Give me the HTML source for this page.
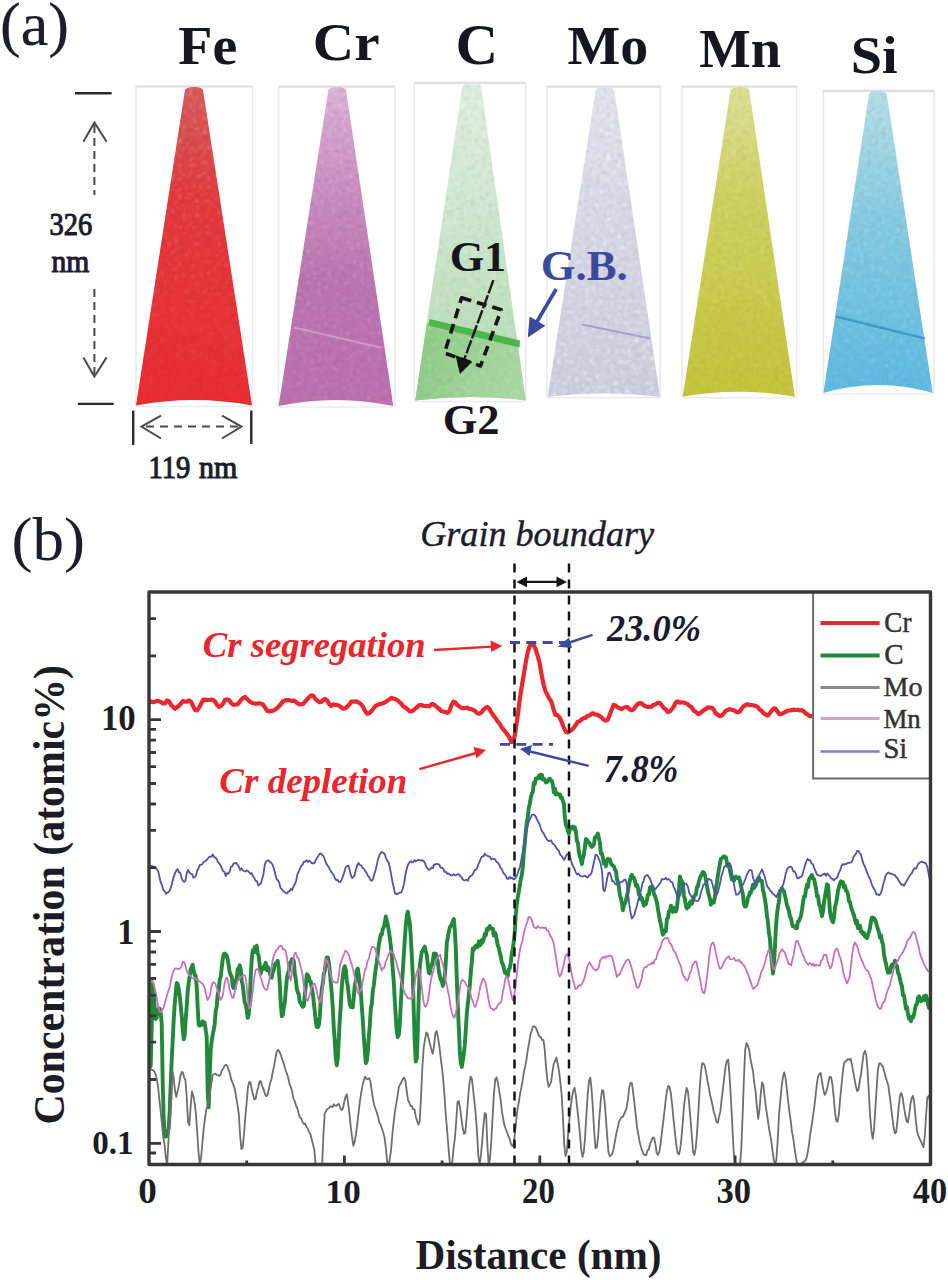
<!DOCTYPE html>
<html><head><meta charset="utf-8"><title>Figure</title>
<style>
html,body{margin:0;padding:0;background:#fff;}
body{width:948px;height:1280px;overflow:hidden;}
svg{display:block;}
text{font-family:"Liberation Serif",serif;}
</style></head><body>
<svg width="948" height="1280" viewBox="0 0 948 1280">
<defs><filter id="spkW" x="-5%" y="-5%" width="110%" height="110%"><feTurbulence type="fractalNoise" baseFrequency="0.28" numOctaves="2" seed="4"/><feColorMatrix type="matrix" values="0 0 0 0 1  0 0 0 0 1  0 0 0 0 1  4 0 0 0 -2.2"/><feGaussianBlur stdDeviation="0.9"/><feComposite in2="SourceAlpha" operator="in"/></filter><filter id="spkD" x="-5%" y="-5%" width="110%" height="110%"><feTurbulence type="fractalNoise" baseFrequency="0.28" numOctaves="2" seed="11"/><feColorMatrix type="matrix" values="0 0 0 0 0  0 0 0 0 0  0 0 0 0 0  -4 0 0 0 1.8"/><feGaussianBlur stdDeviation="0.9"/><feComposite in2="SourceAlpha" operator="in"/></filter><linearGradient id="fadeG" x1="0" y1="0" x2="0" y2="1"><stop offset="0" stop-color="#fff"/><stop offset="0.45" stop-color="#888"/><stop offset="1" stop-color="#222"/></linearGradient><linearGradient id="fadeG2" x1="0" y1="0" x2="0" y2="1"><stop offset="0" stop-color="#fff"/><stop offset="1" stop-color="#777"/></linearGradient><mask id="fade" maskContentUnits="objectBoundingBox"><rect width="1" height="1" fill="url(#fadeG)"/></mask><mask id="fade2" maskContentUnits="objectBoundingBox"><rect width="1" height="1" fill="url(#fadeG2)"/></mask><filter id="spkDb" x="-5%" y="-5%" width="110%" height="110%"><feTurbulence type="fractalNoise" baseFrequency="0.28" numOctaves="2" seed="11"/><feColorMatrix type="matrix" values="0 0 0 0 0.42  0 0 0 0 0.42  0 0 0 0 0.65  -4 0 0 0 1.8"/><feGaussianBlur stdDeviation="0.9"/><feComposite in2="SourceAlpha" operator="in"/></filter><linearGradient id="gFe" x1="0" y1="0" x2="0" y2="1"><stop offset="0" stop-color="#d65a5a"/><stop offset="0.35" stop-color="#e2383c"/><stop offset="1" stop-color="#e72d32"/></linearGradient><linearGradient id="gCr" x1="0" y1="0" x2="0" y2="1"><stop offset="0" stop-color="#dcb0d6"/><stop offset="0.3" stop-color="#cb8fc4"/><stop offset="0.6" stop-color="#bb74b0"/><stop offset="1" stop-color="#b96fae"/></linearGradient><linearGradient id="gC" x1="0" y1="0" x2="0" y2="1"><stop offset="0" stop-color="#dfeee0"/><stop offset="0.45" stop-color="#cde6cd"/><stop offset="0.78" stop-color="#bcdfbb"/><stop offset="1" stop-color="#b0d9ad"/></linearGradient><linearGradient id="gCl" x1="0" y1="0" x2="1" y2="0.3"><stop offset="0" stop-color="#7cc472"/><stop offset="0.6" stop-color="#98d090"/><stop offset="1" stop-color="#a8d8a2"/></linearGradient><clipPath id="cC"><path d="M462.4,86 L481,86 L525.7,400.5 L415.2,400.5 Z"/></clipPath><linearGradient id="gMo" x1="0" y1="0" x2="0" y2="1"><stop offset="0" stop-color="#e2e2ea"/><stop offset="0.5" stop-color="#d5d5e2"/><stop offset="1" stop-color="#cbcbdc"/></linearGradient><linearGradient id="gMn" x1="0" y1="0" x2="0" y2="1"><stop offset="0" stop-color="#dcdf94"/><stop offset="0.35" stop-color="#cdd05e"/><stop offset="1" stop-color="#c2c43a"/></linearGradient><linearGradient id="gSi" x1="0" y1="0" x2="0" y2="1"><stop offset="0" stop-color="#b4dde6"/><stop offset="0.4" stop-color="#86cbe2"/><stop offset="1" stop-color="#5cb9e0"/></linearGradient><clipPath id="plot"><rect x="149" y="592" width="781.5" height="572.5"/></clipPath></defs>
<rect width="948" height="1280" fill="#fff"/>
<path d="M136,405.5 V86.5 H252.5 V405.5" fill="none" stroke="#ebe9ee" stroke-width="1.6"/>
<line x1="136" y1="86.5" x2="252.5" y2="86.5" stroke="#e0dde0" stroke-width="2.2"/>
<line x1="136" y1="406.5" x2="252.5" y2="406.5" stroke="#ecebef" stroke-width="1.5"/>
<path d="M278.6,406 V86.7 H395 V406" fill="none" stroke="#ebe9ee" stroke-width="1.6"/>
<line x1="278.6" y1="86.7" x2="395" y2="86.7" stroke="#e0dde0" stroke-width="2.2"/>
<line x1="278.6" y1="407" x2="395" y2="407" stroke="#ecebef" stroke-width="1.5"/>
<path d="M414.3,400.5 V82.8 H525.7 V400.5" fill="none" stroke="#ebe9ee" stroke-width="1.6"/>
<line x1="414.3" y1="82.8" x2="525.7" y2="82.8" stroke="#e0dde0" stroke-width="2.2"/>
<line x1="414.3" y1="401.5" x2="525.7" y2="401.5" stroke="#ecebef" stroke-width="1.5"/>
<path d="M546.8,396.7 V86.7 H660.2 V396.7" fill="none" stroke="#ebe9ee" stroke-width="1.6"/>
<line x1="546.8" y1="86.7" x2="660.2" y2="86.7" stroke="#e0dde0" stroke-width="2.2"/>
<line x1="546.8" y1="397.7" x2="660.2" y2="397.7" stroke="#ecebef" stroke-width="1.5"/>
<path d="M682,396.7 V86.7 H796.5 V396.7" fill="none" stroke="#ebe9ee" stroke-width="1.6"/>
<line x1="682" y1="86.7" x2="796.5" y2="86.7" stroke="#e0dde0" stroke-width="2.2"/>
<line x1="682" y1="397.7" x2="796.5" y2="397.7" stroke="#ecebef" stroke-width="1.5"/>
<path d="M823.4,393 V90.9 H934 V393" fill="none" stroke="#ebe9ee" stroke-width="1.6"/>
<line x1="823.4" y1="90.9" x2="934" y2="90.9" stroke="#e0dde0" stroke-width="2.2"/>
<line x1="823.4" y1="394" x2="934" y2="394" stroke="#ecebef" stroke-width="1.5"/>
<path d="M185,90 Q186.5,87 194.0,87 Q201.5,87 203,90 L252,405.5 Q194.0,394.5 136,405.5 Z" fill="url(#gFe)"/><g mask="url(#fade)"><path d="M185,90 Q186.5,87 194.0,87 Q201.5,87 203,90 L252,405.5 Q194.0,394.5 136,405.5 Z" fill="#000" filter="url(#spkW)" opacity="0.4"/></g><g mask="url(#fade)"><path d="M185,90 Q186.5,87 194.0,87 Q201.5,87 203,90 L252,405.5 Q194.0,394.5 136,405.5 Z" fill="#000" filter="url(#spkD)" opacity="0.12"/></g>
<path d="M328.4,90 Q329.9,87 337.2,87 Q344.5,87 346,90 L393.3,406 Q335.95000000000005,394 278.6,406 Z" fill="url(#gCr)"/><g mask="url(#fade2)"><path d="M328.4,90 Q329.9,87 337.2,87 Q344.5,87 346,90 L393.3,406 Q335.95000000000005,394 278.6,406 Z" fill="#000" filter="url(#spkW)" opacity="0.35"/></g><g mask="url(#fade2)"><path d="M328.4,90 Q329.9,87 337.2,87 Q344.5,87 346,90 L393.3,406 Q335.95000000000005,394 278.6,406 Z" fill="#000" filter="url(#spkD)" opacity="0.14"/></g>
<path d="M462.4,86 Q463.9,83 471.7,83 Q479.5,83 481,86 L525.7,400.5 Q470.45000000000005,393.5 415.2,400.5 Z" fill="url(#gC)"/><clipPath id="cl462"><path d="M462.4,86 Q463.9,83 471.7,83 Q479.5,83 481,86 L525.7,400.5 Q470.45000000000005,393.5 415.2,400.5 Z"/></clipPath><g clip-path="url(#cl462)"><path d="M400,316 L540,350 L540,410 L400,410 Z" fill="url(#gCl)" opacity="0.85"/></g><g mask="url(#fade2)"><path d="M462.4,86 Q463.9,83 471.7,83 Q479.5,83 481,86 L525.7,400.5 Q470.45000000000005,393.5 415.2,400.5 Z" fill="#000" filter="url(#spkW)" opacity="0.5"/></g><g mask="url(#fade2)"><path d="M462.4,86 Q463.9,83 471.7,83 Q479.5,83 481,86 L525.7,400.5 Q470.45000000000005,393.5 415.2,400.5 Z" fill="#000" filter="url(#spkD)" opacity="0.12"/></g>
<path d="M595.7,90 Q597.2,87 605.0,87 Q612.8,87 614.3,90 L660,396.7 Q603.85,389.7 547.7,396.7 Z" fill="url(#gMo)"/><g><path d="M595.7,90 Q597.2,87 605.0,87 Q612.8,87 614.3,90 L660,396.7 Q603.85,389.7 547.7,396.7 Z" fill="#000" filter="url(#spkW)" opacity="0.8"/></g><g><path d="M595.7,90 Q597.2,87 605.0,87 Q612.8,87 614.3,90 L660,396.7 Q603.85,389.7 547.7,396.7 Z" fill="#000" filter="url(#spkDb)" opacity="0.55"/></g>
<path d="M730.6,90 Q732.1,87 739.9000000000001,87 Q747.7,87 749.2,90 L794.9,396.7 Q738.8,386.7 682.7,396.7 Z" fill="url(#gMn)"/><g mask="url(#fade2)"><path d="M730.6,90 Q732.1,87 739.9000000000001,87 Q747.7,87 749.2,90 L794.9,396.7 Q738.8,386.7 682.7,396.7 Z" fill="#000" filter="url(#spkW)" opacity="0.35"/></g><g mask="url(#fade2)"><path d="M730.6,90 Q732.1,87 739.9000000000001,87 Q747.7,87 749.2,90 L794.9,396.7 Q738.8,386.7 682.7,396.7 Z" fill="#000" filter="url(#spkD)" opacity="0.1"/></g>
<path d="M869,94 Q870.5,91 877.85,91 Q885.2,91 886.7,94 L932.7,393 Q878.05,377 823.4,393 Z" fill="url(#gSi)"/><g mask="url(#fade2)"><path d="M869,94 Q870.5,91 877.85,91 Q885.2,91 886.7,94 L932.7,393 Q878.05,377 823.4,393 Z" fill="#000" filter="url(#spkW)" opacity="0.4"/></g><g mask="url(#fade2)"><path d="M869,94 Q870.5,91 877.85,91 Q885.2,91 886.7,94 L932.7,393 Q878.05,377 823.4,393 Z" fill="#000" filter="url(#spkD)" opacity="0.12"/></g>
<line x1="294" y1="327.5" x2="381.5" y2="347.8" stroke="#dcb4d8" stroke-width="2" opacity="0.6"/>
<line x1="582" y1="324.5" x2="650" y2="338.6" stroke="#7a7cc0" stroke-width="2" opacity="0.55"/>
<line x1="836" y1="316.5" x2="925" y2="338.4" stroke="#2f8fc4" stroke-width="2.6" opacity="0.75"/>
<path d="M429.5,319 L520,340.5 L519.5,347.5 L428.5,325.5 Z" fill="#4cb64c"/>
<line x1="75" y1="93.2" x2="111.6" y2="93.2" stroke="#2a2a2a" stroke-width="2.4"/>
<line x1="77.8" y1="403.9" x2="113.7" y2="403.9" stroke="#2a2a2a" stroke-width="2.4"/>
<line x1="94.4" y1="125" x2="94.4" y2="195" stroke="#4a4a4a" stroke-width="2" stroke-dasharray="8,5"/>
<path d="M83.4,141.7 L94.4,122.5 L106.6,141.7" fill="none" stroke="#4a4a4a" stroke-width="2"/>
<line x1="94.4" y1="289" x2="94.4" y2="374" stroke="#4a4a4a" stroke-width="2" stroke-dasharray="8,5"/>
<path d="M83.4,357.4 L94.4,376.5 L106.6,357.4" fill="none" stroke="#4a4a4a" stroke-width="2"/>
<line x1="133.2" y1="410.5" x2="133.2" y2="445" stroke="#2a2a2a" stroke-width="2.4"/>
<line x1="251.3" y1="410.5" x2="251.3" y2="444" stroke="#2a2a2a" stroke-width="2.4"/>
<line x1="146" y1="426.6" x2="238" y2="426.6" stroke="#4a4a4a" stroke-width="2" stroke-dasharray="8,6"/>
<path d="M161,415.6 L141.5,426.6 L161,438.5" fill="none" stroke="#4a4a4a" stroke-width="2"/>
<path d="M222,415.6 L241.5,426.6 L222,438.5" fill="none" stroke="#4a4a4a" stroke-width="2"/>
<path d="M461.6,297.8 L501.2,309.8 L480.5,366 L444.5,353 Z" fill="none" stroke="#141414" stroke-width="3.6" stroke-dasharray="10,6" stroke-linejoin="round"/>
<line x1="493.4" y1="280.2" x2="464" y2="360" stroke="#1a1a1a" stroke-width="2.4" stroke-dasharray="14,2"/>
<path d="M455.5,355.3 L472.4,361.8 L459.9,374 Z" fill="#141414"/>
<line x1="556.2" y1="289" x2="535" y2="325" stroke="#3b4a9c" stroke-width="3.6"/>
<path d="M529.6,316.6 L545.4,325.8 L527.8,337.5 Z" fill="#3b4a9c"/>
<g clip-path="url(#plot)"><path d="M149.0,702.5 L151.0,701.6 L153.0,702.1 L155.0,701.7 L157.0,700.8 L159.0,701.3 L161.0,702.2 L163.0,703.3 L165.0,703.1 L167.0,700.5 L169.0,701.3 L171.0,704.8 L173.0,706.8 L175.0,708.8 L177.0,707.2 L179.0,705.7 L181.0,703.5 L183.0,701.0 L185.0,701.7 L187.0,701.7 L189.1,700.4 L191.1,701.8 L193.1,706.0 L195.1,710.0 L197.1,710.4 L199.1,707.6 L201.1,703.8 L203.1,699.9 L205.1,699.6 L207.1,699.9 L209.1,700.0 L211.1,699.6 L213.1,699.8 L215.1,701.7 L217.1,704.9 L219.1,706.9 L221.1,705.9 L223.1,703.6 L225.1,699.8 L227.1,699.4 L229.1,700.0 L231.1,703.0 L233.1,704.7 L235.1,704.7 L237.1,704.4 L239.1,702.6 L241.1,699.7 L243.1,697.9 L245.1,697.0 L247.1,699.1 L249.1,701.1 L251.1,702.4 L253.1,703.3 L255.1,703.7 L257.1,703.7 L259.1,703.2 L261.1,703.7 L263.1,704.7 L265.1,707.6 L267.2,710.7 L269.2,711.4 L271.2,710.9 L273.2,710.6 L275.2,709.6 L277.2,708.1 L279.2,706.1 L281.2,703.6 L283.2,701.2 L285.2,700.4 L287.2,700.1 L289.2,700.2 L291.2,700.8 L293.2,700.6 L295.2,701.3 L297.2,703.1 L299.2,704.3 L301.2,704.3 L303.2,703.9 L305.2,701.6 L307.2,699.2 L309.2,697.1 L311.2,695.3 L313.2,695.7 L315.2,698.7 L317.2,700.6 L319.2,702.2 L321.2,702.0 L323.2,700.0 L325.2,699.0 L327.2,700.4 L329.2,704.2 L331.2,705.9 L333.2,704.3 L335.2,704.9 L337.2,704.8 L339.2,705.8 L341.2,707.2 L343.2,708.7 L345.3,708.2 L347.3,706.7 L349.3,704.4 L351.3,701.7 L353.3,701.7 L355.3,701.4 L357.3,701.6 L359.3,703.1 L361.3,704.4 L363.3,707.3 L365.3,711.4 L367.3,713.8 L369.3,713.3 L371.3,711.3 L373.3,708.8 L375.3,706.2 L377.3,705.2 L379.3,704.1 L381.3,703.7 L383.3,703.2 L385.3,702.1 L387.3,700.7 L389.3,699.5 L391.3,697.8 L393.3,698.4 L395.3,699.2 L397.3,700.1 L399.3,702.0 L401.3,703.7 L403.3,706.4 L405.3,707.5 L407.3,709.1 L409.3,711.1 L411.3,711.4 L413.3,710.4 L415.3,708.6 L417.3,707.0 L419.3,705.0 L421.3,705.0 L423.4,705.9 L425.4,706.0 L427.4,706.1 L429.4,706.2 L431.4,704.2 L433.4,704.2 L435.4,705.7 L437.4,707.5 L439.4,709.0 L441.4,711.2 L443.4,711.7 L445.4,712.0 L447.4,712.8 L449.4,711.1 L451.4,705.2 L453.4,701.7 L455.4,702.4 L457.4,705.3 L459.4,706.5 L461.4,707.9 L463.4,708.1 L465.4,708.0 L467.4,707.7 L469.4,709.0 L471.4,709.1 L473.4,710.0 L475.4,711.3 L477.4,713.4 L479.4,713.6 L481.4,712.5 L483.4,709.7 L485.4,708.0 L487.4,706.9 L489.4,708.8 L491.4,712.4 L493.4,715.5 L495.4,717.8 L497.4,721.3 L499.4,723.3 L501.5,727.0 L503.5,729.6 L505.5,732.0 L507.5,734.6 L509.5,737.7 L511.5,742.0 L513.5,741.6 L515.5,731.3 L517.5,717.2 L519.5,701.5 L521.5,687.8 L523.5,676.1 L525.5,664.0 L527.5,653.1 L529.5,646.5 L531.5,643.5 L533.5,644.6 L535.5,649.0 L537.5,655.3 L539.5,662.4 L541.5,674.1 L543.5,684.3 L545.5,691.1 L547.5,695.2 L549.5,698.9 L551.5,701.8 L553.5,709.3 L555.5,715.0 L557.5,715.1 L559.5,717.3 L561.5,721.5 L563.5,726.8 L565.5,731.5 L567.5,732.5 L569.5,731.2 L571.5,730.1 L573.5,728.1 L575.5,725.3 L577.5,722.0 L579.6,721.1 L581.6,719.5 L583.6,718.1 L585.6,717.8 L587.6,715.8 L589.6,715.5 L591.6,713.7 L593.6,713.4 L595.6,714.7 L597.6,714.5 L599.6,716.2 L601.6,717.3 L603.6,719.7 L605.6,720.6 L607.6,719.9 L609.6,715.1 L611.6,709.7 L613.6,705.0 L615.6,705.5 L617.6,707.3 L619.6,708.2 L621.6,709.1 L623.6,707.9 L625.6,707.1 L627.6,707.0 L629.6,709.3 L631.6,710.3 L633.6,709.4 L635.6,706.3 L637.6,704.2 L639.6,703.2 L641.6,703.3 L643.6,705.2 L645.6,706.3 L647.6,706.9 L649.6,706.8 L651.6,706.6 L653.6,704.9 L655.6,704.2 L657.7,702.8 L659.7,702.8 L661.7,705.3 L663.7,707.9 L665.7,709.3 L667.7,712.1 L669.7,711.5 L671.7,709.3 L673.7,706.8 L675.7,702.4 L677.7,701.4 L679.7,702.7 L681.7,702.3 L683.7,702.5 L685.7,703.3 L687.7,704.2 L689.7,706.1 L691.7,707.2 L693.7,710.6 L695.7,711.8 L697.7,713.8 L699.7,713.6 L701.7,711.8 L703.7,710.3 L705.7,709.1 L707.7,707.4 L709.7,707.7 L711.7,707.6 L713.7,709.6 L715.7,713.4 L717.7,714.6 L719.7,716.2 L721.7,715.5 L723.7,713.5 L725.7,710.8 L727.7,709.9 L729.7,709.2 L731.7,709.8 L733.7,710.0 L735.8,711.5 L737.8,712.4 L739.8,711.5 L741.8,708.3 L743.8,706.1 L745.8,704.9 L747.8,704.4 L749.8,705.1 L751.8,705.1 L753.8,705.5 L755.8,705.9 L757.8,707.0 L759.8,709.7 L761.8,711.0 L763.8,713.3 L765.8,714.7 L767.8,715.7 L769.8,713.4 L771.8,710.4 L773.8,708.4 L775.8,708.9 L777.8,712.0 L779.8,714.3 L781.8,713.8 L783.8,712.8 L785.8,711.6 L787.8,710.6 L789.8,710.5 L791.8,710.0 L793.8,709.7 L795.8,710.0 L797.8,709.8 L799.8,710.5 L801.8,710.2 L803.8,711.3 L805.8,713.5 L807.8,714.5 L809.8,716.2 L811.8,716.1 L813.9,716.0 L815.9,713.9 L817.9,713.2 L819.9,712.5 L821.9,710.5 L823.9,710.7 L825.9,708.6 L827.9,708.4 L829.9,707.8 L831.9,706.9 L833.9,705.8 L835.9,705.5 L837.9,706.6 L839.9,708.1 L841.9,708.3 L843.9,710.4 L845.9,710.4 L847.9,712.3 L849.9,711.3 L851.9,711.6 L853.9,712.1 L855.9,711.4 L857.9,710.8 L859.9,710.0 L861.9,709.1 L863.9,708.4 L865.9,707.1 L867.9,707.1 L869.9,706.5 L871.9,707.5 L873.9,707.8 L875.9,707.9 L877.9,708.5 L879.9,710.6 L881.9,711.3 L883.9,711.8 L885.9,712.4 L887.9,713.3 L889.9,712.9 L892.0,712.7 L894.0,712.3 L896.0,711.6 L898.0,710.6 L900.0,710.7 L902.0,709.7 L904.0,709.2 L906.0,707.9 L908.0,707.9 L910.0,707.5 L912.0,707.5 L914.0,707.8 L916.0,708.8 L918.0,708.4 L920.0,708.8 L922.0,709.5 L924.0,709.5 L926.0,709.8 L928.0,711.2 L930.0,712.0" fill="none" stroke="#e8282e" stroke-width="4.2" stroke-linejoin="round"/><path d="M149.7,979.1 L150.7,1066.2 L151.7,1026.2 L152.7,984.5 L153.7,990.6 L154.7,1009.8 L155.7,1019.1 L156.7,1017.4 L157.7,1010.3 L158.7,1008.3 L159.7,1008.7 L160.7,1013.1 L161.7,1023.5 L162.7,1082.5 L163.7,1119.1 L164.7,1135.2 L165.7,1136.7 L166.7,1135.6 L167.7,1131.9 L168.7,1128.7 L169.7,1110.9 L170.7,1083.7 L171.7,1059.7 L172.7,1040.6 L173.7,1019.9 L174.7,1004.6 L175.7,993.5 L176.7,982.9 L177.7,984.2 L178.7,988.6 L179.7,995.6 L180.7,1005.8 L181.7,1015.8 L182.7,1029.3 L183.7,1039.4 L184.7,1035.3 L185.7,1019.3 L186.7,1006.7 L187.7,991.5 L188.7,982.7 L189.7,976.3 L190.7,969.6 L191.7,966.9 L192.7,964.7 L193.7,971.3 L194.7,975.3 L195.7,975.8 L196.7,986.5 L197.7,1007.5 L198.7,1025.0 L199.7,1025.6 L200.7,1023.8 L201.7,1024.9 L202.7,1021.3 L203.7,1023.9 L204.7,1022.8 L205.7,1030.1 L206.7,1036.6 L207.7,1091.7 L208.7,1107.4 L209.7,1075.8 L210.7,1049.6 L211.7,1041.1 L212.7,1034.7 L213.7,1030.0 L214.7,1024.2 L215.7,1011.2 L216.7,1006.6 L217.7,994.3 L218.7,990.7 L219.7,979.7 L220.7,976.9 L221.7,967.8 L222.7,959.5 L223.7,954.5 L224.7,953.5 L225.7,954.3 L226.7,955.7 L227.7,959.2 L228.7,965.5 L229.7,972.2 L230.7,975.0 L231.7,976.8 L232.7,986.1 L233.7,988.1 L234.7,988.7 L235.7,980.5 L236.7,978.7 L237.7,968.9 L238.7,968.7 L239.7,965.3 L240.7,969.3 L241.7,981.2 L242.7,984.6 L243.7,993.7 L244.7,1002.2 L245.7,1004.8 L246.7,1010.1 L247.7,1017.9 L248.7,1014.6 L249.7,1002.9 L250.7,977.3 L251.7,959.9 L252.7,950.5 L253.7,952.1 L254.7,947.1 L255.7,951.9 L256.7,945.7 L257.7,953.1 L258.7,955.9 L259.7,965.3 L260.7,973.7 L261.7,969.2 L262.7,967.6 L263.7,968.7 L264.7,965.2 L265.7,962.8 L266.7,970.1 L267.7,966.9 L268.7,968.6 L269.7,972.9 L270.7,976.3 L271.7,977.6 L272.7,972.1 L273.7,970.5 L274.7,964.7 L275.7,963.4 L276.7,962.4 L277.7,960.8 L278.7,967.8 L279.8,984.3 L280.8,1004.6 L281.8,1016.4 L282.8,1014.9 L283.8,1007.9 L284.8,1002.3 L285.8,990.2 L286.8,979.1 L287.8,973.3 L288.8,971.3 L289.8,962.9 L290.8,962.7 L291.8,959.3 L292.8,959.3 L293.8,960.7 L294.8,974.1 L295.8,979.1 L296.8,988.8 L297.8,992.3 L298.8,994.4 L299.8,1002.2 L300.8,1003.2 L301.8,1005.4 L302.8,1006.8 L303.8,1005.9 L304.8,995.5 L305.8,985.6 L306.8,974.3 L307.8,975.2 L308.8,977.1 L309.8,981.6 L310.8,981.9 L311.8,988.5 L312.8,992.9 L313.8,1002.9 L314.8,1011.8 L315.8,1021.2 L316.8,1026.9 L317.8,1027.2 L318.8,1025.5 L319.8,1016.2 L320.8,999.9 L321.8,988.9 L322.8,983.7 L323.8,974.1 L324.8,971.0 L325.8,962.1 L326.8,957.5 L327.8,957.4 L328.8,962.5 L329.8,971.1 L330.8,983.0 L331.8,993.6 L332.8,1008.1 L333.8,1027.6 L334.8,1041.4 L335.8,1058.6 L336.8,1065.3 L337.8,1058.4 L338.8,1038.4 L339.8,1019.6 L340.8,1005.5 L341.8,986.8 L342.8,975.9 L343.8,968.7 L344.8,966.3 L345.8,969.8 L346.8,980.8 L347.8,985.9 L348.8,994.9 L349.8,1004.4 L350.8,1007.1 L351.8,1006.4 L352.8,1007.4 L353.8,996.5 L354.8,985.5 L355.8,981.0 L356.8,970.4 L357.8,968.6 L358.8,975.1 L359.8,983.4 L360.8,991.8 L361.8,1007.2 L362.8,1019.8 L363.8,1036.5 L364.8,1050.2 L365.8,1063.2 L366.8,1060.9 L367.8,1052.1 L368.8,1036.7 L369.8,1025.3 L370.8,1009.2 L371.8,1003.8 L372.8,991.2 L373.8,985.2 L374.8,975.9 L375.8,968.3 L376.8,962.5 L377.8,953.0 L378.8,944.8 L379.8,939.4 L380.8,934.4 L381.8,934.7 L382.8,928.9 L383.8,927.1 L384.8,922.5 L385.8,916.5 L386.8,920.5 L387.8,924.7 L388.8,930.7 L389.8,937.6 L390.8,945.8 L391.8,955.6 L392.8,969.9 L393.8,982.4 L394.8,1001.2 L395.8,1016.8 L396.8,1032.1 L397.8,1037.0 L398.8,1034.9 L399.8,1023.5 L400.8,1004.1 L401.8,985.9 L402.8,970.6 L403.8,954.9 L404.8,939.6 L405.8,925.5 L406.8,916.0 L407.8,911.6 L408.8,918.0 L409.8,923.0 L410.8,937.4 L411.8,955.5 L412.8,975.7 L413.8,1013.0 L414.8,1043.7 L415.8,1061.5 L416.8,1058.4 L417.8,1030.9 L418.8,994.9 L419.8,965.9 L420.8,958.2 L421.8,952.0 L422.8,950.6 L423.8,948.2 L424.8,946.6 L425.8,951.2 L426.8,955.0 L427.8,964.8 L428.8,972.9 L429.8,973.5 L430.8,967.1 L431.8,965.2 L432.8,961.0 L433.8,953.5 L434.8,955.4 L435.8,953.7 L436.8,958.6 L437.8,961.5 L438.8,971.0 L439.8,975.5 L440.8,979.7 L441.8,981.3 L442.8,985.9 L443.8,982.6 L444.8,976.1 L445.8,962.4 L446.8,943.1 L447.8,937.1 L448.8,932.2 L449.8,927.5 L450.8,925.9 L451.8,924.5 L452.8,921.2 L453.8,919.0 L454.8,930.2 L455.8,948.3 L456.8,979.3 L457.8,1005.0 L458.8,1027.3 L459.8,1050.9 L460.8,1062.8 L461.8,1066.9 L462.8,1060.7 L463.8,1053.9 L464.8,1044.9 L465.8,1030.2 L466.8,1013.3 L467.8,1004.1 L468.8,995.3 L469.8,985.6 L470.8,972.3 L471.8,962.3 L472.8,948.5 L473.8,949.7 L474.8,947.3 L475.8,945.8 L476.8,947.2 L477.8,946.7 L478.8,941.3 L479.8,945.4 L480.8,944.5 L481.8,940.0 L482.8,942.0 L483.8,938.9 L484.8,934.0 L485.8,935.5 L486.8,928.9 L487.8,930.1 L488.8,927.6 L489.8,926.0 L490.8,928.4 L491.8,928.8 L492.8,928.7 L493.8,935.6 L494.8,932.3 L495.8,934.5 L496.8,940.4 L497.8,945.6 L498.8,947.7 L499.8,952.9 L500.8,956.3 L501.8,962.4 L502.8,964.1 L503.8,967.6 L504.8,972.7 L505.8,972.2 L506.8,973.4 L507.8,976.3 L508.8,969.3 L509.8,968.2 L510.8,962.5 L511.8,953.7 L512.8,948.8 L513.8,941.6 L514.8,931.4 L515.8,914.9 L516.8,904.1 L517.8,897.1 L518.8,891.8 L519.8,885.9 L520.8,878.8 L521.8,875.0 L522.8,867.4 L523.8,852.5 L524.8,843.2 L525.8,831.6 L526.8,822.4 L527.8,817.6 L528.8,807.5 L529.8,803.9 L530.8,797.7 L531.8,793.6 L532.8,791.9 L533.8,782.7 L534.8,784.2 L535.8,778.4 L536.8,778.8 L537.8,778.3 L538.8,776.5 L539.9,775.0 L540.9,778.6 L541.9,774.8 L542.9,779.3 L543.9,778.7 L544.9,780.2 L545.9,782.4 L546.9,782.1 L547.9,781.1 L548.9,779.1 L549.9,778.8 L550.9,780.4 L551.9,780.9 L552.9,785.1 L553.9,792.5 L554.9,788.7 L555.9,794.5 L556.9,792.9 L557.9,794.0 L558.9,794.9 L559.9,794.5 L560.9,798.0 L561.9,797.5 L562.9,801.1 L563.9,803.9 L564.9,817.7 L565.9,825.4 L566.9,826.7 L567.9,831.0 L568.9,833.6 L569.9,829.4 L570.9,827.4 L571.9,827.5 L572.9,826.5 L573.9,829.1 L574.9,827.5 L575.9,831.8 L576.9,841.0 L577.9,842.8 L578.9,852.1 L579.9,856.6 L580.9,859.4 L581.9,864.0 L582.9,858.0 L583.9,854.4 L584.9,846.9 L585.9,839.0 L586.9,839.7 L587.9,842.2 L588.9,842.2 L589.9,843.8 L590.9,845.8 L591.9,846.9 L592.9,845.3 L593.9,844.7 L594.9,837.5 L595.9,836.8 L596.9,835.2 L597.9,833.6 L598.9,838.1 L599.9,843.0 L600.9,853.6 L601.9,853.5 L602.9,857.9 L603.9,863.6 L604.9,861.0 L605.9,866.3 L606.9,860.3 L607.9,858.8 L608.9,859.9 L609.9,859.5 L610.9,863.5 L611.9,864.6 L612.9,865.9 L613.9,866.3 L614.9,869.6 L615.9,870.7 L616.9,879.0 L617.9,881.8 L618.9,887.3 L619.9,895.6 L620.9,898.1 L621.9,903.5 L622.9,910.2 L623.9,905.4 L624.9,903.8 L625.9,900.5 L626.9,895.8 L627.9,891.3 L628.9,884.7 L629.9,880.5 L630.9,876.4 L631.9,874.9 L632.9,877.8 L633.9,877.7 L634.9,880.5 L635.9,886.0 L636.9,884.5 L637.9,887.8 L638.9,894.7 L639.9,894.5 L640.9,899.4 L641.9,897.8 L642.9,902.3 L643.9,905.7 L644.9,902.8 L645.9,904.0 L646.9,899.9 L647.9,894.6 L648.9,894.6 L649.9,887.7 L650.9,886.8 L651.9,888.3 L652.9,888.0 L653.9,893.9 L654.9,895.6 L655.9,899.0 L656.9,902.4 L657.9,909.0 L658.9,914.6 L659.9,920.2 L660.9,924.5 L661.9,930.0 L662.9,934.7 L663.9,932.6 L664.9,930.5 L665.9,931.1 L666.9,919.2 L667.9,918.0 L668.9,911.5 L669.9,910.8 L670.9,905.6 L671.9,907.8 L672.9,911.9 L673.9,907.9 L674.9,909.3 L675.9,911.4 L676.9,908.4 L677.9,898.9 L678.9,889.9 L679.9,876.4 L680.9,879.7 L681.9,881.0 L682.9,883.2 L683.9,896.0 L684.9,899.0 L685.9,905.9 L686.9,908.5 L687.9,905.4 L688.9,906.7 L689.9,902.3 L690.9,901.3 L691.9,903.7 L692.9,900.8 L693.9,896.5 L694.9,895.4 L695.9,894.5 L696.9,887.2 L697.9,886.6 L698.9,881.3 L699.9,878.3 L700.9,875.7 L701.9,874.3 L702.9,872.0 L703.9,872.6 L704.9,875.0 L705.9,879.8 L706.9,885.9 L707.9,891.3 L708.9,895.3 L709.9,898.6 L710.9,904.7 L711.9,901.6 L712.9,900.7 L713.9,902.5 L714.9,896.8 L715.9,888.3 L716.9,882.8 L717.9,875.5 L718.9,869.7 L719.9,863.7 L720.9,858.8 L721.9,858.3 L722.9,857.4 L723.9,856.3 L724.9,856.9 L725.9,857.3 L726.9,862.5 L727.9,866.2 L728.9,863.7 L729.9,870.1 L730.9,875.1 L731.9,879.6 L732.9,877.8 L733.9,880.8 L734.9,877.8 L735.9,876.6 L736.9,878.0 L737.9,877.6 L738.9,877.4 L739.9,880.8 L740.9,885.6 L741.9,890.6 L742.9,894.2 L743.9,903.9 L744.9,906.6 L745.9,906.3 L746.9,903.4 L747.9,897.7 L748.9,896.0 L749.9,892.4 L750.9,892.8 L751.9,889.3 L752.9,884.7 L753.9,887.9 L754.9,886.7 L755.9,884.8 L756.9,880.8 L757.9,878.6 L758.9,877.3 L759.9,880.8 L760.9,880.6 L761.9,880.8 L762.9,889.7 L763.9,893.6 L764.9,899.1 L765.9,905.6 L766.9,915.0 L767.9,922.1 L768.9,932.7 L769.9,938.4 L770.9,952.9 L771.9,962.0 L772.9,973.6 L773.9,965.4 L774.9,947.4 L775.9,927.7 L776.9,915.1 L777.9,907.2 L778.9,901.9 L779.9,891.0 L780.9,890.5 L781.9,888.5 L782.9,890.3 L783.9,891.2 L784.9,895.4 L785.9,899.6 L786.9,905.2 L787.9,908.0 L788.9,910.9 L789.9,916.2 L790.9,917.9 L791.9,923.0 L792.9,926.4 L793.9,926.5 L794.9,926.3 L795.9,928.3 L796.9,928.1 L797.9,921.5 L798.9,921.2 L800.0,918.4 L801.0,915.8 L802.0,909.7 L803.0,902.2 L804.0,896.7 L805.0,896.4 L806.0,889.5 L807.0,884.5 L808.0,886.9 L809.0,879.6 L810.0,877.9 L811.0,876.2 L812.0,875.0 L813.0,878.6 L814.0,878.8 L815.0,883.5 L816.0,888.3 L817.0,896.3 L818.0,896.1 L819.0,904.1 L820.0,906.4 L821.0,911.3 L822.0,916.1 L823.0,911.4 L824.0,902.1 L825.0,896.5 L826.0,890.6 L827.0,884.3 L828.0,885.4 L829.0,897.9 L830.0,911.9 L831.0,917.4 L832.0,920.4 L833.0,922.3 L834.0,917.6 L835.0,907.1 L836.0,903.7 L837.0,898.2 L838.0,890.5 L839.0,886.8 L840.0,883.3 L841.0,881.4 L842.0,882.0 L843.0,882.1 L844.0,887.4 L845.0,885.8 L846.0,890.8 L847.0,891.2 L848.0,894.3 L849.0,901.4 L850.0,901.9 L851.0,906.8 L852.0,910.3 L853.0,912.7 L854.0,915.3 L855.0,919.6 L856.0,923.6 L857.0,920.9 L858.0,928.2 L859.0,928.2 L860.0,925.8 L861.0,931.8 L862.0,931.6 L863.0,934.1 L864.0,932.9 L865.0,936.6 L866.0,937.2 L867.0,938.2 L868.0,934.4 L869.0,931.6 L870.0,927.9 L871.0,921.0 L872.0,917.4 L873.0,919.7 L874.0,918.1 L875.0,919.4 L876.0,922.4 L877.0,926.1 L878.0,929.3 L879.0,932.5 L880.0,937.5 L881.0,935.3 L882.0,941.8 L883.0,944.2 L884.0,954.5 L885.0,959.8 L886.0,963.8 L887.0,969.1 L888.0,972.7 L889.0,970.9 L890.0,972.4 L891.0,966.8 L892.0,964.7 L893.0,966.8 L894.0,963.8 L895.0,960.7 L896.0,966.4 L897.0,966.0 L898.0,972.8 L899.0,974.4 L900.0,979.2 L901.0,983.6 L902.0,986.2 L903.0,995.3 L904.0,995.4 L905.0,1002.3 L906.0,1008.9 L907.0,1006.9 L908.0,1014.2 L909.0,1018.9 L910.0,1019.1 L911.0,1021.2 L912.0,1016.4 L913.0,1017.5 L914.0,1014.5 L915.0,1009.2 L916.0,1004.8 L917.0,1003.7 L918.0,997.7 L919.0,996.4 L920.0,999.4 L921.0,1001.3 L922.0,1000.1 L923.0,998.9 L924.0,996.3 L925.0,1000.3 L926.0,995.6 L927.0,998.7 L928.0,1004.5 L929.0,1007.9 L930.0,1008.4" fill="none" stroke="#22883a" stroke-width="3.9" stroke-linejoin="round"/><path d="M149.0,1068.0 L150.3,1068.3 L151.6,1069.9 L152.9,1069.8 L154.2,1071.3 L155.5,1074.0 L156.8,1078.8 L158.1,1087.5 L159.4,1099.9 L160.7,1111.4 L162.0,1125.0 L163.3,1137.5 L164.6,1144.7 L165.9,1158.0 L167.2,1165.0 L168.5,1139.8 L169.8,1118.6 L171.1,1104.0 L172.4,1071.0 L173.7,1077.6 L175.0,1090.8 L176.3,1096.8 L177.6,1091.3 L178.9,1085.8 L180.2,1077.3 L181.5,1072.2 L182.8,1072.1 L184.1,1077.3 L185.4,1080.0 L186.7,1096.8 L188.1,1122.7 L189.4,1125.2 L190.7,1105.7 L192.0,1091.3 L193.3,1095.9 L194.6,1102.6 L195.9,1113.8 L197.2,1131.6 L198.5,1151.9 L199.8,1164.7 L201.1,1157.3 L202.4,1142.9 L203.7,1128.8 L205.0,1118.3 L206.3,1109.5 L207.6,1105.6 L208.9,1099.5 L210.2,1090.7 L211.5,1082.1 L212.8,1075.1 L214.1,1074.1 L215.4,1073.6 L216.7,1074.9 L218.0,1075.1 L219.3,1075.9 L220.6,1074.6 L221.9,1070.3 L223.2,1068.7 L224.5,1065.9 L225.8,1064.8 L227.1,1065.6 L228.4,1069.7 L229.7,1072.5 L231.0,1078.9 L232.3,1082.1 L233.6,1085.4 L234.9,1089.4 L236.2,1097.5 L237.5,1104.8 L238.8,1114.0 L240.1,1135.5 L241.4,1149.1 L242.7,1147.7 L244.0,1134.0 L245.3,1117.0 L246.6,1103.1 L247.9,1087.8 L249.2,1082.2 L250.5,1082.2 L251.8,1089.8 L253.1,1094.5 L254.4,1099.7 L255.7,1098.5 L257.0,1091.7 L258.3,1087.2 L259.6,1081.3 L260.9,1081.2 L262.2,1086.3 L263.5,1089.0 L264.8,1093.5 L266.1,1096.2 L267.5,1095.3 L268.8,1089.3 L270.1,1083.0 L271.4,1079.7 L272.7,1072.0 L274.0,1066.7 L275.3,1059.2 L276.6,1052.0 L277.9,1050.0 L279.2,1051.2 L280.5,1054.2 L281.8,1057.8 L283.1,1061.7 L284.4,1065.8 L285.7,1070.8 L287.0,1073.8 L288.3,1078.3 L289.6,1084.1 L290.9,1087.3 L292.2,1092.1 L293.5,1098.5 L294.8,1101.5 L296.1,1106.0 L297.4,1108.5 L298.7,1113.7 L300.0,1117.6 L301.3,1118.5 L302.6,1122.3 L303.9,1123.9 L305.2,1123.5 L306.5,1127.0 L307.8,1128.7 L309.1,1132.1 L310.4,1134.2 L311.7,1139.2 L313.0,1144.3 L314.3,1149.8 L315.6,1163.8 L316.9,1166.6 L318.2,1167.0 L319.5,1165.2 L320.8,1165.9 L322.1,1166.3 L323.4,1134.9 L324.7,1113.9 L326.0,1110.8 L327.3,1109.0 L328.6,1108.5 L329.9,1106.7 L331.2,1106.4 L332.5,1107.1 L333.8,1104.3 L335.1,1105.7 L336.4,1105.9 L337.7,1104.4 L339.0,1104.0 L340.3,1108.3 L341.6,1110.1 L342.9,1108.5 L344.2,1102.3 L345.6,1096.5 L346.9,1094.3 L348.2,1103.8 L349.5,1114.7 L350.8,1127.1 L352.1,1137.5 L353.4,1145.8 L354.7,1141.8 L356.0,1134.2 L357.3,1123.7 L358.6,1112.3 L359.9,1101.3 L361.2,1093.1 L362.5,1085.3 L363.8,1080.6 L365.1,1076.6 L366.4,1078.6 L367.7,1079.3 L369.0,1078.1 L370.3,1080.9 L371.6,1090.0 L372.9,1098.3 L374.2,1105.4 L375.5,1108.8 L376.8,1112.5 L378.1,1117.1 L379.4,1122.6 L380.7,1124.9 L382.0,1128.7 L383.3,1132.6 L384.6,1137.9 L385.9,1148.5 L387.2,1161.9 L388.5,1164.9 L389.8,1159.0 L391.1,1149.3 L392.4,1134.0 L393.7,1121.9 L395.0,1110.9 L396.3,1103.6 L397.6,1095.5 L398.9,1086.8 L400.2,1084.3 L401.5,1081.8 L402.8,1079.0 L404.1,1077.6 L405.4,1080.7 L406.7,1090.9 L408.0,1099.8 L409.3,1102.7 L410.6,1106.0 L411.9,1106.2 L413.2,1109.3 L414.5,1109.5 L415.8,1116.7 L417.1,1120.8 L418.4,1124.8 L419.7,1121.3 L421.0,1097.4 L422.4,1066.7 L423.7,1047.6 L425.0,1039.7 L426.3,1032.3 L427.6,1034.0 L428.9,1039.7 L430.2,1045.1 L431.5,1049.7 L432.8,1053.6 L434.1,1045.3 L435.4,1032.7 L436.7,1031.0 L438.0,1038.0 L439.3,1045.3 L440.6,1057.0 L441.9,1067.1 L443.2,1078.9 L444.5,1096.3 L445.8,1115.1 L447.1,1129.8 L448.4,1146.6 L449.7,1161.8 L451.0,1166.9 L452.3,1161.6 L453.6,1148.2 L454.9,1138.0 L456.2,1121.9 L457.5,1102.0 L458.8,1101.1 L460.1,1107.8 L461.4,1118.5 L462.7,1127.7 L464.0,1133.8 L465.3,1132.8 L466.6,1118.0 L467.9,1101.1 L469.2,1085.4 L470.5,1076.6 L471.8,1078.3 L473.1,1089.4 L474.4,1101.6 L475.7,1114.3 L477.0,1131.5 L478.3,1155.2 L479.6,1164.7 L480.9,1155.7 L482.2,1141.3 L483.5,1125.1 L484.8,1113.0 L486.1,1114.6 L487.4,1145.5 L488.7,1164.8 L490.0,1158.6 L491.3,1141.0 L492.6,1117.1 L493.9,1094.3 L495.2,1079.8 L496.5,1077.4 L497.8,1082.2 L499.1,1090.3 L500.5,1098.6 L501.8,1110.1 L503.1,1118.7 L504.4,1124.9 L505.7,1128.8 L507.0,1132.3 L508.3,1135.9 L509.6,1138.5 L510.9,1143.7 L512.2,1146.2 L513.5,1145.1 L514.8,1134.5 L516.1,1121.3 L517.4,1110.0 L518.7,1102.5 L520.0,1094.3 L521.3,1088.0 L522.6,1080.7 L523.9,1071.8 L525.2,1066.6 L526.5,1059.4 L527.8,1050.0 L529.1,1042.9 L530.4,1034.6 L531.7,1030.8 L533.0,1026.5 L534.3,1026.1 L535.6,1027.3 L536.9,1030.1 L538.2,1034.0 L539.5,1036.7 L540.8,1037.1 L542.1,1040.0 L543.4,1040.0 L544.7,1049.1 L546.0,1066.6 L547.3,1079.3 L548.6,1086.8 L549.9,1084.7 L551.2,1081.4 L552.5,1071.6 L553.8,1063.7 L555.1,1061.0 L556.4,1057.5 L557.7,1063.6 L559.0,1070.9 L560.3,1081.8 L561.6,1094.0 L562.9,1116.3 L564.2,1144.5 L565.5,1156.2 L566.8,1151.8 L568.1,1134.9 L569.4,1119.5 L570.7,1106.3 L572.0,1097.4 L573.3,1090.6 L574.6,1087.8 L575.9,1095.9 L577.2,1107.7 L578.5,1119.7 L579.9,1133.5 L581.2,1149.1 L582.5,1156.9 L583.8,1151.9 L585.1,1136.4 L586.4,1114.7 L587.7,1094.7 L589.0,1080.7 L590.3,1077.7 L591.6,1089.6 L592.9,1108.9 L594.2,1131.7 L595.5,1148.1 L596.8,1147.5 L598.1,1137.0 L599.4,1117.2 L600.7,1101.1 L602.0,1090.1 L603.3,1090.8 L604.6,1101.6 L605.9,1118.4 L607.2,1136.9 L608.5,1152.3 L609.8,1156.5 L611.1,1155.1 L612.4,1153.5 L613.7,1148.5 L615.0,1140.7 L616.3,1133.8 L617.6,1128.5 L618.9,1122.1 L620.2,1119.4 L621.5,1117.2 L622.8,1116.8 L624.1,1114.0 L625.4,1111.2 L626.7,1107.4 L628.0,1098.8 L629.3,1087.2 L630.6,1082.7 L631.9,1083.3 L633.2,1092.7 L634.5,1103.7 L635.8,1115.9 L637.1,1127.7 L638.4,1135.2 L639.7,1142.2 L641.0,1147.2 L642.3,1150.9 L643.6,1154.3 L644.9,1155.0 L646.2,1155.1 L647.5,1150.4 L648.8,1149.5 L650.1,1144.0 L651.4,1140.8 L652.7,1137.7 L654.0,1137.7 L655.3,1143.2 L656.7,1153.1 L658.0,1155.1 L659.3,1151.5 L660.6,1144.1 L661.9,1132.3 L663.2,1121.9 L664.5,1111.0 L665.8,1099.1 L667.1,1090.2 L668.4,1085.7 L669.7,1087.6 L671.0,1094.2 L672.3,1106.5 L673.6,1119.9 L674.9,1132.1 L676.2,1144.1 L677.5,1152.6 L678.8,1154.4 L680.1,1150.0 L681.4,1138.4 L682.7,1123.3 L684.0,1106.1 L685.3,1095.8 L686.6,1087.8 L687.9,1091.2 L689.2,1104.2 L690.5,1119.1 L691.8,1136.3 L693.1,1151.9 L694.4,1154.9 L695.7,1148.3 L697.0,1133.2 L698.3,1113.0 L699.6,1089.7 L700.9,1073.1 L702.2,1063.4 L703.5,1063.3 L704.8,1065.8 L706.1,1072.5 L707.4,1080.7 L708.7,1086.6 L710.0,1094.7 L711.3,1100.0 L712.6,1105.8 L713.9,1112.5 L715.2,1115.9 L716.5,1122.1 L717.8,1122.9 L719.1,1116.4 L720.4,1111.2 L721.7,1098.8 L723.0,1088.4 L724.3,1077.1 L725.6,1066.0 L726.9,1060.9 L728.2,1059.5 L729.5,1075.6 L730.8,1096.9 L732.1,1120.9 L733.4,1147.0 L734.8,1163.8 L736.1,1166.1 L737.4,1164.8 L738.7,1166.0 L740.0,1165.0 L741.3,1148.8 L742.6,1115.8 L743.9,1079.1 L745.2,1049.8 L746.5,1043.0 L747.8,1045.5 L749.1,1049.5 L750.4,1058.6 L751.7,1065.0 L753.0,1071.2 L754.3,1083.4 L755.6,1091.7 L756.9,1106.7 L758.2,1118.8 L759.5,1109.5 L760.8,1093.2 L762.1,1082.4 L763.4,1085.4 L764.7,1097.5 L766.0,1108.2 L767.3,1116.2 L768.6,1125.9 L769.9,1133.5 L771.2,1140.5 L772.5,1150.9 L773.8,1159.6 L775.1,1165.0 L776.4,1159.3 L777.7,1140.4 L779.0,1114.8 L780.3,1101.0 L781.6,1086.5 L782.9,1077.4 L784.2,1072.3 L785.5,1077.6 L786.8,1088.8 L788.1,1101.0 L789.4,1111.6 L790.7,1120.5 L792.0,1131.9 L793.3,1138.5 L794.6,1148.8 L795.9,1157.2 L797.2,1163.4 L798.5,1166.9 L799.8,1166.3 L801.1,1163.8 L802.4,1162.6 L803.7,1161.8 L805.0,1161.0 L806.3,1158.7 L807.6,1153.1 L808.9,1144.8 L810.2,1134.5 L811.5,1126.3 L812.9,1117.2 L814.2,1107.7 L815.5,1096.4 L816.8,1084.5 L818.1,1076.3 L819.4,1073.8 L820.7,1072.9 L822.0,1081.6 L823.3,1089.4 L824.6,1094.9 L825.9,1093.1 L827.2,1088.6 L828.5,1081.8 L829.8,1076.6 L831.1,1077.2 L832.4,1084.5 L833.7,1096.7 L835.0,1112.4 L836.3,1120.8 L837.6,1121.8 L838.9,1114.2 L840.2,1098.5 L841.5,1085.7 L842.8,1071.9 L844.1,1063.0 L845.4,1061.4 L846.7,1060.5 L848.0,1059.1 L849.3,1059.8 L850.6,1058.8 L851.9,1064.4 L853.2,1071.8 L854.5,1078.8 L855.8,1085.9 L857.1,1091.1 L858.4,1090.0 L859.7,1081.5 L861.0,1074.5 L862.3,1064.1 L863.6,1054.0 L864.9,1050.8 L866.2,1054.6 L867.5,1069.5 L868.8,1092.3 L870.1,1115.4 L871.4,1130.4 L872.7,1138.8 L874.0,1130.0 L875.3,1109.3 L876.6,1089.2 L877.9,1069.7 L879.2,1063.3 L880.5,1063.3 L881.8,1065.4 L883.1,1067.1 L884.4,1072.3 L885.7,1077.0 L887.0,1081.5 L888.3,1085.3 L889.6,1095.3 L891.0,1106.2 L892.3,1117.2 L893.6,1127.3 L894.9,1133.4 L896.2,1132.1 L897.5,1120.3 L898.8,1106.0 L900.1,1095.0 L901.4,1093.0 L902.7,1098.0 L904.0,1107.2 L905.3,1114.8 L906.6,1121.3 L907.9,1122.4 L909.2,1114.4 L910.5,1103.7 L911.8,1097.8 L913.1,1095.7 L914.4,1104.4 L915.7,1119.2 L917.0,1130.7 L918.3,1135.7 L919.6,1138.7 L920.9,1141.4 L922.2,1144.3 L923.5,1147.1 L924.8,1135.7 L926.1,1115.3 L927.4,1097.4 L928.7,1095.8 L930.0,1100.0" fill="none" stroke="#6e6e6e" stroke-width="1.8" stroke-linejoin="round"/><path d="M149.0,980.0 L150.3,978.4 L151.6,978.1 L152.9,982.0 L154.2,986.7 L155.5,991.8 L156.8,998.3 L158.1,1006.1 L159.4,1010.8 L160.7,1012.6 L162.0,1010.1 L163.3,1008.3 L164.6,1003.9 L165.9,999.3 L167.2,994.5 L168.5,990.5 L169.8,986.9 L171.1,980.0 L172.4,974.0 L173.7,970.7 L175.0,968.4 L176.3,968.4 L177.6,969.0 L178.9,969.0 L180.2,968.3 L181.5,966.2 L182.8,961.8 L184.1,962.2 L185.4,965.3 L186.7,970.6 L188.0,973.5 L189.3,975.4 L190.6,975.1 L191.9,978.0 L193.2,978.4 L194.5,978.2 L195.8,978.0 L197.1,980.3 L198.4,980.0 L199.7,981.7 L201.0,982.7 L202.3,983.4 L203.6,985.3 L204.9,988.6 L206.2,994.7 L207.5,1000.0 L208.8,998.3 L210.1,994.8 L211.4,987.0 L212.7,982.4 L214.0,982.6 L215.3,983.2 L216.6,987.4 L217.9,991.4 L219.2,995.1 L220.5,999.9 L221.8,998.4 L223.1,993.9 L224.4,984.5 L225.7,978.9 L227.0,977.6 L228.3,982.1 L229.6,989.3 L230.9,993.9 L232.2,997.8 L233.5,997.8 L234.8,991.5 L236.1,986.0 L237.4,981.4 L238.7,979.9 L240.0,978.4 L241.3,976.4 L242.6,976.0 L243.9,975.1 L245.2,976.0 L246.5,983.2 L247.8,998.8 L249.1,1008.5 L250.4,1007.1 L251.7,999.2 L253.0,989.9 L254.3,977.0 L255.6,969.9 L256.9,969.0 L258.2,969.8 L259.5,972.0 L260.8,977.8 L262.1,981.6 L263.4,986.6 L264.7,988.6 L266.0,990.0 L267.3,989.3 L268.6,983.3 L269.9,976.5 L271.2,970.0 L272.5,961.0 L273.8,955.5 L275.1,952.5 L276.4,949.9 L277.7,949.3 L279.0,946.6 L280.3,946.0 L281.6,945.9 L282.9,949.3 L284.2,949.2 L285.5,950.4 L286.8,956.4 L288.1,966.4 L289.4,975.8 L290.7,980.7 L292.0,972.2 L293.3,959.6 L294.6,953.1 L295.9,952.9 L297.2,957.3 L298.5,958.2 L299.8,963.5 L301.1,968.5 L302.4,973.8 L303.7,984.5 L305.0,992.2 L306.3,998.5 L307.6,1001.1 L308.9,997.5 L310.2,993.5 L311.5,987.3 L312.8,984.7 L314.1,983.5 L315.4,985.8 L316.7,990.4 L318.0,997.3 L319.3,1001.8 L320.6,1001.9 L321.9,994.0 L323.2,982.9 L324.5,967.9 L325.8,959.1 L327.1,961.1 L328.4,964.0 L329.7,971.0 L331.0,975.3 L332.3,980.8 L333.6,981.3 L334.9,982.4 L336.2,982.8 L337.5,982.4 L338.8,976.1 L340.1,964.4 L341.4,961.3 L342.7,957.3 L344.0,954.3 L345.3,950.8 L346.6,951.3 L347.9,953.3 L349.2,956.2 L350.5,960.9 L351.8,964.8 L353.1,969.5 L354.4,975.6 L355.7,981.4 L357.0,989.5 L358.3,993.6 L359.6,991.4 L360.9,990.5 L362.2,984.9 L363.5,977.8 L364.8,970.3 L366.1,968.3 L367.4,961.4 L368.7,959.1 L370.0,953.9 L371.3,948.6 L372.6,946.5 L373.9,947.0 L375.2,948.5 L376.5,952.9 L377.8,958.6 L379.1,961.9 L380.4,965.7 L381.7,970.7 L383.0,968.0 L384.3,967.9 L385.6,961.9 L386.9,959.5 L388.2,955.4 L389.5,952.8 L390.8,951.0 L392.1,952.9 L393.4,953.3 L394.7,957.9 L396.0,960.9 L397.3,966.9 L398.6,971.0 L399.9,975.1 L401.2,982.3 L402.5,987.3 L403.8,990.5 L405.1,994.1 L406.4,995.6 L407.7,998.2 L409.0,998.6 L410.3,998.0 L411.6,998.9 L412.9,997.1 L414.2,988.7 L415.5,977.7 L416.8,972.0 L418.1,968.6 L419.4,969.9 L420.7,979.5 L422.0,989.5 L423.3,1000.6 L424.6,1005.9 L425.9,1006.7 L427.2,1003.5 L428.5,998.0 L429.8,987.3 L431.1,979.1 L432.4,973.8 L433.7,969.8 L435.0,964.1 L436.3,959.6 L437.6,957.6 L438.9,955.8 L440.2,954.7 L441.5,960.3 L442.8,963.6 L444.1,970.4 L445.4,978.8 L446.7,984.4 L448.0,991.5 L449.3,997.1 L450.6,1007.1 L451.9,1012.2 L453.2,1016.6 L454.5,1017.7 L455.8,1013.0 L457.1,1006.3 L458.4,998.8 L459.7,990.0 L461.0,981.7 L462.3,979.8 L463.6,980.9 L464.9,982.1 L466.2,984.8 L467.5,986.5 L468.8,987.8 L470.1,991.7 L471.4,998.0 L472.7,1001.1 L474.0,1005.5 L475.3,1007.0 L476.6,1003.5 L477.9,998.8 L479.2,992.5 L480.5,985.5 L481.8,982.2 L483.1,978.3 L484.4,980.4 L485.7,983.0 L487.0,991.2 L488.3,998.2 L489.6,1004.4 L490.9,1008.5 L492.2,1008.9 L493.5,1010.4 L494.8,1008.6 L496.1,1008.6 L497.4,1005.9 L498.7,1004.3 L500.0,1002.9 L501.3,1001.6 L502.6,993.3 L503.9,987.4 L505.2,979.2 L506.5,976.4 L507.8,977.6 L509.1,984.0 L510.4,989.6 L511.7,996.5 L513.0,1000.5 L514.3,994.6 L515.6,986.4 L516.9,973.4 L518.2,961.7 L519.5,952.7 L520.8,946.2 L522.1,942.3 L523.4,935.7 L524.7,930.0 L526.0,925.1 L527.3,921.7 L528.6,916.9 L529.9,917.2 L531.2,918.6 L532.5,922.4 L533.8,926.9 L535.1,927.8 L536.4,928.4 L537.7,926.0 L539.0,927.5 L540.3,927.6 L541.6,927.8 L542.9,927.4 L544.2,928.2 L545.5,927.4 L546.8,930.4 L548.1,930.7 L549.4,933.3 L550.7,936.5 L552.0,938.5 L553.3,941.9 L554.6,948.6 L555.9,957.0 L557.2,965.8 L558.5,973.2 L559.8,976.5 L561.1,974.5 L562.4,970.0 L563.7,964.8 L565.0,957.4 L566.3,954.5 L567.6,954.3 L568.9,958.7 L570.2,965.6 L571.5,972.8 L572.8,979.2 L574.1,984.1 L575.4,989.0 L576.7,988.6 L578.0,986.5 L579.3,985.0 L580.6,985.8 L581.9,983.8 L583.2,981.6 L584.5,977.9 L585.8,972.9 L587.1,967.6 L588.4,964.2 L589.7,962.3 L591.0,964.9 L592.3,966.8 L593.6,969.1 L594.9,969.5 L596.2,970.7 L597.5,969.2 L598.8,967.2 L600.1,960.5 L601.4,958.7 L602.7,957.2 L604.0,956.8 L605.3,958.0 L606.6,956.0 L607.9,956.8 L609.2,955.7 L610.5,955.6 L611.8,956.2 L613.1,961.1 L614.4,966.3 L615.7,971.4 L617.0,977.0 L618.3,974.7 L619.6,974.7 L620.9,971.7 L622.2,968.7 L623.5,965.4 L624.8,963.4 L626.1,961.0 L627.4,959.5 L628.7,959.6 L630.0,962.6 L631.3,967.0 L632.6,971.6 L633.9,976.9 L635.2,980.9 L636.5,986.8 L637.8,988.0 L639.1,986.4 L640.4,982.7 L641.7,978.8 L643.0,971.1 L644.3,967.5 L645.6,967.0 L646.9,966.7 L648.2,964.7 L649.5,964.4 L650.8,964.1 L652.1,962.3 L653.4,963.8 L654.7,959.6 L656.0,959.6 L657.3,954.1 L658.6,950.6 L659.9,948.9 L661.2,945.3 L662.5,940.7 L663.8,939.3 L665.1,937.8 L666.4,938.4 L667.7,937.7 L669.0,941.1 L670.3,943.6 L671.6,945.3 L672.9,948.6 L674.2,951.5 L675.5,952.7 L676.8,956.6 L678.1,959.9 L679.4,963.1 L680.7,965.9 L682.0,971.4 L683.3,975.8 L684.6,977.0 L685.9,979.8 L687.2,980.9 L688.5,978.4 L689.8,973.4 L691.1,970.8 L692.4,965.4 L693.7,963.7 L695.0,961.4 L696.3,961.6 L697.6,967.7 L698.9,973.5 L700.2,979.8 L701.5,987.7 L702.8,992.4 L704.1,993.4 L705.4,988.8 L706.7,979.0 L708.0,967.8 L709.3,956.1 L710.6,946.8 L711.9,943.5 L713.2,942.5 L714.5,945.7 L715.8,953.1 L717.1,958.7 L718.4,964.5 L719.7,968.5 L721.0,968.5 L722.3,966.4 L723.6,962.5 L724.9,960.8 L726.2,958.4 L727.5,957.3 L728.8,956.1 L730.1,959.1 L731.4,959.4 L732.7,959.0 L734.0,957.9 L735.3,960.6 L736.6,960.3 L737.9,960.8 L739.2,959.7 L740.5,962.7 L741.8,962.1 L743.1,965.0 L744.4,965.9 L745.7,968.6 L747.0,972.3 L748.3,974.7 L749.6,979.2 L750.9,982.4 L752.2,986.6 L753.5,989.2 L754.8,987.2 L756.1,986.4 L757.4,985.1 L758.7,980.8 L760.0,977.2 L761.3,971.8 L762.6,969.5 L763.9,966.0 L765.2,961.4 L766.5,956.3 L767.8,952.0 L769.1,949.2 L770.4,951.9 L771.7,961.4 L773.0,968.4 L774.3,969.5 L775.6,965.8 L776.9,962.5 L778.2,958.7 L779.5,953.2 L780.8,951.2 L782.1,949.3 L783.4,951.2 L784.7,952.4 L786.0,956.3 L787.3,959.7 L788.6,964.3 L789.9,963.9 L791.2,965.3 L792.5,959.0 L793.8,954.7 L795.1,945.5 L796.4,940.8 L797.7,940.9 L799.0,944.8 L800.3,947.3 L801.6,951.9 L802.9,955.0 L804.2,957.7 L805.5,961.2 L806.8,962.9 L808.1,964.8 L809.4,962.9 L810.7,963.5 L812.0,965.4 L813.3,963.6 L814.6,966.2 L815.9,964.5 L817.2,965.4 L818.5,965.6 L819.8,965.5 L821.1,960.7 L822.4,959.7 L823.7,955.0 L825.0,955.0 L826.3,954.7 L827.6,961.4 L828.9,965.1 L830.2,968.4 L831.5,966.6 L832.8,961.2 L834.1,953.6 L835.4,950.0 L836.7,948.5 L838.0,950.1 L839.3,955.8 L840.6,958.5 L841.9,964.2 L843.2,971.8 L844.5,976.9 L845.8,980.2 L847.1,983.4 L848.4,980.6 L849.7,976.3 L851.0,964.9 L852.3,953.6 L853.6,946.1 L854.9,942.5 L856.2,944.5 L857.5,947.3 L858.8,952.0 L860.1,956.2 L861.4,959.8 L862.7,962.1 L864.0,965.6 L865.3,968.3 L866.6,970.4 L867.9,970.8 L869.2,973.8 L870.5,977.1 L871.8,981.2 L873.1,987.7 L874.4,992.8 L875.7,999.9 L877.0,1004.1 L878.3,1007.3 L879.6,1008.9 L880.9,1008.6 L882.2,1004.6 L883.5,1002.3 L884.8,1000.8 L886.1,995.2 L887.4,991.1 L888.7,987.8 L890.0,984.8 L891.3,979.0 L892.6,974.3 L893.9,968.6 L895.2,964.2 L896.5,962.3 L897.8,961.1 L899.1,958.1 L900.4,955.4 L901.7,954.0 L903.0,952.1 L904.3,949.2 L905.6,946.5 L906.9,942.6 L908.2,939.2 L909.5,938.5 L910.8,936.0 L912.1,933.4 L913.4,931.7 L914.7,932.8 L916.0,936.4 L917.3,942.0 L918.6,946.3 L919.9,953.3 L921.2,957.1 L922.5,959.9 L923.8,963.9 L925.1,966.3 L926.4,968.5 L927.7,970.8 L929.0,971.7" fill="none" stroke="#c870c0" stroke-width="1.8" stroke-linejoin="round"/><path d="M149.0,866.0 L150.3,865.9 L151.6,866.1 L152.9,866.4 L154.2,867.1 L155.5,867.1 L156.8,869.5 L158.1,870.9 L159.4,876.8 L160.7,882.2 L162.0,885.2 L163.3,889.9 L164.6,891.1 L165.9,893.7 L167.2,892.7 L168.5,892.2 L169.8,890.5 L171.1,886.4 L172.4,882.1 L173.7,876.6 L175.0,873.4 L176.3,870.4 L177.6,869.1 L178.9,872.3 L180.2,872.5 L181.5,877.8 L182.8,880.6 L184.1,881.9 L185.4,880.9 L186.7,873.3 L188.1,869.9 L189.4,872.5 L190.7,873.7 L192.0,874.0 L193.3,877.6 L194.6,877.1 L195.9,875.9 L197.2,870.7 L198.5,868.5 L199.8,865.0 L201.1,864.8 L202.4,863.9 L203.7,861.7 L205.0,861.4 L206.3,860.1 L207.6,858.9 L208.9,857.3 L210.2,856.6 L211.5,856.5 L212.8,854.5 L214.1,857.1 L215.4,857.5 L216.7,859.1 L218.0,862.2 L219.3,863.4 L220.6,865.4 L221.9,868.3 L223.2,871.3 L224.5,872.0 L225.8,876.1 L227.1,873.2 L228.4,873.7 L229.7,871.5 L231.0,866.6 L232.3,866.3 L233.6,863.4 L234.9,863.4 L236.2,862.8 L237.5,864.6 L238.8,866.7 L240.1,869.9 L241.4,868.3 L242.7,870.2 L244.0,871.0 L245.3,871.5 L246.6,870.3 L247.9,871.0 L249.2,872.3 L250.5,873.9 L251.8,873.1 L253.1,876.2 L254.4,878.3 L255.7,880.9 L257.0,881.1 L258.3,885.6 L259.6,884.2 L260.9,883.4 L262.2,878.9 L263.5,874.0 L264.8,864.6 L266.1,861.4 L267.5,860.5 L268.8,860.7 L270.1,862.0 L271.4,863.1 L272.7,865.0 L274.0,868.7 L275.3,874.3 L276.6,879.2 L277.9,880.2 L279.2,882.6 L280.5,888.0 L281.8,889.2 L283.1,890.9 L284.4,891.8 L285.7,893.0 L287.0,893.4 L288.3,891.8 L289.6,891.0 L290.9,889.0 L292.2,890.2 L293.5,886.2 L294.8,884.3 L296.1,881.0 L297.4,874.3 L298.7,871.5 L300.0,868.5 L301.3,865.6 L302.6,864.7 L303.9,861.6 L305.2,861.6 L306.5,860.2 L307.8,862.1 L309.1,860.7 L310.4,861.5 L311.7,863.3 L313.0,863.1 L314.3,863.4 L315.6,860.4 L316.9,858.0 L318.2,856.2 L319.5,853.9 L320.8,853.4 L322.1,854.9 L323.4,856.0 L324.7,859.0 L326.0,863.0 L327.3,865.2 L328.6,867.0 L329.9,869.6 L331.2,871.9 L332.5,873.4 L333.8,875.5 L335.1,878.6 L336.4,880.2 L337.7,880.0 L339.0,881.9 L340.3,882.0 L341.6,880.0 L342.9,876.4 L344.2,872.5 L345.6,867.6 L346.9,866.2 L348.2,865.5 L349.5,869.6 L350.8,874.9 L352.1,878.0 L353.4,876.8 L354.7,874.9 L356.0,869.0 L357.3,865.1 L358.6,863.0 L359.9,865.1 L361.2,865.3 L362.5,867.8 L363.8,868.7 L365.1,871.2 L366.4,872.6 L367.7,875.5 L369.0,876.8 L370.3,879.7 L371.6,880.8 L372.9,879.6 L374.2,874.5 L375.5,870.6 L376.8,864.9 L378.1,858.9 L379.4,855.4 L380.7,853.0 L382.0,851.9 L383.3,852.9 L384.6,853.7 L385.9,857.8 L387.2,860.7 L388.5,862.2 L389.8,867.3 L391.1,874.2 L392.4,881.9 L393.7,887.2 L395.0,893.5 L396.3,894.0 L397.6,894.0 L398.9,892.8 L400.2,892.7 L401.5,892.1 L402.8,888.5 L404.1,883.4 L405.4,875.0 L406.7,869.0 L408.0,864.8 L409.3,862.7 L410.6,861.2 L411.9,862.3 L413.2,862.0 L414.5,860.2 L415.8,861.3 L417.1,860.5 L418.4,859.9 L419.7,860.1 L421.0,860.6 L422.4,860.2 L423.7,861.2 L425.0,863.1 L426.3,866.8 L427.6,868.6 L428.9,869.9 L430.2,869.4 L431.5,867.4 L432.8,868.1 L434.1,864.4 L435.4,864.6 L436.7,863.7 L438.0,864.3 L439.3,864.3 L440.6,867.6 L441.9,867.9 L443.2,868.6 L444.5,871.8 L445.8,871.7 L447.1,873.8 L448.4,873.5 L449.7,874.3 L451.0,875.5 L452.3,875.2 L453.6,874.2 L454.9,875.4 L456.2,875.0 L457.5,874.4 L458.8,874.1 L460.1,876.1 L461.4,877.0 L462.7,879.3 L464.0,880.4 L465.3,880.1 L466.6,879.7 L467.9,880.8 L469.2,877.3 L470.5,876.0 L471.8,875.5 L473.1,873.6 L474.4,870.4 L475.7,869.9 L477.0,868.4 L478.3,864.3 L479.6,861.7 L480.9,858.4 L482.2,856.3 L483.5,856.4 L484.8,853.6 L486.1,855.2 L487.4,855.9 L488.7,856.4 L490.0,856.7 L491.3,859.4 L492.6,858.6 L493.9,858.9 L495.2,859.3 L496.5,862.1 L497.8,862.5 L499.1,864.4 L500.5,867.6 L501.8,869.0 L503.1,872.5 L504.4,874.1 L505.7,875.7 L507.0,878.5 L508.3,879.1 L509.6,876.8 L510.9,878.3 L512.2,877.6 L513.5,879.4 L514.8,879.0 L516.1,877.1 L517.4,874.6 L518.7,870.0 L520.0,867.2 L521.3,859.8 L522.6,853.2 L523.9,844.9 L525.2,838.4 L526.5,831.3 L527.8,825.6 L529.1,820.0 L530.4,818.8 L531.7,815.2 L533.0,814.7 L534.3,814.7 L535.6,816.4 L536.9,819.4 L538.2,821.7 L539.5,824.1 L540.8,828.3 L542.1,831.3 L543.4,832.8 L544.7,835.7 L546.0,837.7 L547.3,840.1 L548.6,841.0 L549.9,840.9 L551.2,840.3 L552.5,843.6 L553.8,844.0 L555.1,846.0 L556.4,848.1 L557.7,849.7 L559.0,851.2 L560.3,854.9 L561.6,855.9 L562.9,857.9 L564.2,860.0 L565.5,856.8 L566.8,854.6 L568.1,854.1 L569.4,852.8 L570.7,859.2 L572.0,864.0 L573.3,866.8 L574.6,869.1 L575.9,872.7 L577.2,874.6 L578.5,873.5 L579.9,875.4 L581.2,876.3 L582.5,876.6 L583.8,876.2 L585.1,875.7 L586.4,876.9 L587.7,877.6 L589.0,875.5 L590.3,874.9 L591.6,872.6 L592.9,867.0 L594.2,861.0 L595.5,854.8 L596.8,855.1 L598.1,857.1 L599.4,860.3 L600.7,863.8 L602.0,871.2 L603.3,889.4 L604.6,891.4 L605.9,885.9 L607.2,877.9 L608.5,872.8 L609.8,872.7 L611.1,876.5 L612.4,881.5 L613.7,881.1 L615.0,883.9 L616.3,884.4 L617.6,883.9 L618.9,884.8 L620.2,882.5 L621.5,881.7 L622.8,881.5 L624.1,879.9 L625.4,879.5 L626.7,883.5 L628.0,893.0 L629.3,904.9 L630.6,913.0 L631.9,918.5 L633.2,916.9 L634.5,914.3 L635.8,909.2 L637.1,905.3 L638.4,899.3 L639.7,893.9 L641.0,890.7 L642.3,884.0 L643.6,880.6 L644.9,876.6 L646.2,875.8 L647.5,874.9 L648.8,876.9 L650.1,878.8 L651.4,883.0 L652.7,885.3 L654.0,889.0 L655.3,889.2 L656.7,887.4 L658.0,886.0 L659.3,884.0 L660.6,882.6 L661.9,879.0 L663.2,879.3 L664.5,879.1 L665.8,877.8 L667.1,879.9 L668.4,878.9 L669.7,879.9 L671.0,882.1 L672.3,882.2 L673.6,886.6 L674.9,889.4 L676.2,893.1 L677.5,897.5 L678.8,896.2 L680.1,895.9 L681.4,889.9 L682.7,885.7 L684.0,884.7 L685.3,883.5 L686.6,884.0 L687.9,886.9 L689.2,892.8 L690.5,895.0 L691.8,897.3 L693.1,897.2 L694.4,900.2 L695.7,900.7 L697.0,901.0 L698.3,900.6 L699.6,898.2 L700.9,893.0 L702.2,888.5 L703.5,884.4 L704.8,884.4 L706.1,882.0 L707.4,881.0 L708.7,878.8 L710.0,879.6 L711.3,880.3 L712.6,884.8 L713.9,889.9 L715.2,894.6 L716.5,895.2 L717.8,892.3 L719.1,887.5 L720.4,881.8 L721.7,874.8 L723.0,871.5 L724.3,866.6 L725.6,866.1 L726.9,863.1 L728.2,863.8 L729.5,864.6 L730.8,865.3 L732.1,871.6 L733.4,881.1 L734.8,889.1 L736.1,894.6 L737.4,894.7 L738.7,893.7 L740.0,891.3 L741.3,889.9 L742.6,885.1 L743.9,882.7 L745.2,879.5 L746.5,875.7 L747.8,872.8 L749.1,870.3 L750.4,870.0 L751.7,870.5 L753.0,877.6 L754.3,881.3 L755.6,886.2 L756.9,884.7 L758.2,880.3 L759.5,874.3 L760.8,871.8 L762.1,869.3 L763.4,873.3 L764.7,876.2 L766.0,881.9 L767.3,886.4 L768.6,888.1 L769.9,890.1 L771.2,891.4 L772.5,893.5 L773.8,894.3 L775.1,895.7 L776.4,897.0 L777.7,894.1 L779.0,892.0 L780.3,890.2 L781.6,887.2 L782.9,885.5 L784.2,881.1 L785.5,874.6 L786.8,870.0 L788.1,867.7 L789.4,866.9 L790.7,866.7 L792.0,867.7 L793.3,871.5 L794.6,871.4 L795.9,874.0 L797.2,878.1 L798.5,878.3 L799.8,877.2 L801.1,876.8 L802.4,875.0 L803.7,869.9 L805.0,865.6 L806.3,861.4 L807.6,858.9 L808.9,860.3 L810.2,860.1 L811.5,863.5 L812.9,864.1 L814.2,868.1 L815.5,870.8 L816.8,874.4 L818.1,875.1 L819.4,875.8 L820.7,876.0 L822.0,875.2 L823.3,874.0 L824.6,873.5 L825.9,875.8 L827.2,873.4 L828.5,874.9 L829.8,876.1 L831.1,878.4 L832.4,878.8 L833.7,880.3 L835.0,879.1 L836.3,878.3 L837.6,876.6 L838.9,872.6 L840.2,870.3 L841.5,866.1 L842.8,864.1 L844.1,864.8 L845.4,864.0 L846.7,863.8 L848.0,862.8 L849.3,862.9 L850.6,862.4 L851.9,861.7 L853.2,857.7 L854.5,855.4 L855.8,854.1 L857.1,851.0 L858.4,850.8 L859.7,852.9 L861.0,854.8 L862.3,860.1 L863.6,864.1 L864.9,866.6 L866.2,870.0 L867.5,873.4 L868.8,876.7 L870.1,879.1 L871.4,883.2 L872.7,886.7 L874.0,888.8 L875.3,890.9 L876.6,894.7 L877.9,894.3 L879.2,895.2 L880.5,893.9 L881.8,890.4 L883.1,884.7 L884.4,880.3 L885.7,875.3 L887.0,873.6 L888.3,872.4 L889.6,873.6 L891.0,873.4 L892.3,874.3 L893.6,874.6 L894.9,875.1 L896.2,877.1 L897.5,878.0 L898.8,880.9 L900.1,882.7 L901.4,884.6 L902.7,884.5 L904.0,885.8 L905.3,883.5 L906.6,881.1 L907.9,878.7 L909.2,876.6 L910.5,874.4 L911.8,873.3 L913.1,870.2 L914.4,868.2 L915.7,868.7 L917.0,866.7 L918.3,863.9 L919.6,862.7 L920.9,861.9 L922.2,861.7 L923.5,862.6 L924.8,862.7 L926.1,863.8 L927.4,867.3 L928.7,874.0 L930.0,880.8" fill="none" stroke="#5252ae" stroke-width="1.8" stroke-linejoin="round"/></g>
<path d="M149,1143.3 h12 M149,1079.5 h7 M149,1042.2 h7 M149,1015.8 h7 M149,995.3 h7 M149,978.5 h7 M149,964.3 h7 M149,952.0 h7 M149,941.2 h7 M149,931.5 h12 M149,867.7 h7 M149,830.4 h7 M149,804.0 h7 M149,783.5 h7 M149,766.7 h7 M149,752.5 h7 M149,740.2 h7 M149,729.4 h7 M149,719.7 h12 M149,655.9 h7 M149,618.6 h7 M149,655.9 h7 M149,618.6 h7 M149,1153.0 h7 M246.7,1164.5 v-4 M344.4,1164.5 v-9 M442.1,1164.5 v-4 M539.8,1164.5 v-9 M637.4,1164.5 v-4 M735.1,1164.5 v-9 M832.8,1164.5 v-4" stroke="#383838" stroke-width="2.8" fill="none"/>
<line x1="514.5" y1="563.5" x2="514.5" y2="1163" stroke="#141414" stroke-width="2.5" stroke-dasharray="9,7"/>
<line x1="569" y1="563.5" x2="569" y2="1163" stroke="#141414" stroke-width="2.5" stroke-dasharray="9,7"/>
<line x1="524" y1="581.9" x2="559" y2="581.9" stroke="#141414" stroke-width="2.2"/>
<path d="M516.5,581.9 L527,576.5 L527,587.3 Z" fill="#141414"/>
<path d="M567,581.9 L556.5,576.5 L556.5,587.3 Z" fill="#141414"/>
<line x1="510" y1="642.5" x2="569" y2="642.5" stroke="#3b4aa0" stroke-width="2.8" stroke-dasharray="10,6.3"/>
<line x1="500" y1="744.3" x2="553" y2="744.3" stroke="#3b4aa0" stroke-width="2.8" stroke-dasharray="10,6.3"/>
<line x1="592.5" y1="634.8" x2="568" y2="643" stroke="#3b4aa0" stroke-width="2.4"/>
<path d="M557.7,646.8 L569,637.5 L572,648 Z" fill="#3b4aa0"/>
<line x1="588.7" y1="765.9" x2="530" y2="751.5" stroke="#3b4aa0" stroke-width="2.4"/>
<path d="M520.1,748.8 L532,745 L529.5,756 Z" fill="#3b4aa0"/>
<line x1="434" y1="650" x2="492" y2="646.6" stroke="#e8262e" stroke-width="2.4"/>
<path d="M502.3,645.9 L490.5,640.5 L491.3,652 Z" fill="#e8262e"/>
<line x1="419.4" y1="769.1" x2="476" y2="753" stroke="#e8262e" stroke-width="2.4"/>
<path d="M485.9,750.1 L473.5,747 L476.5,758.5 Z" fill="#e8262e"/>
<rect x="813.1" y="592" width="117.39999999999998" height="186.5" fill="#fff" stroke="#6a6a6a" stroke-width="2"/>
<line x1="820.5" y1="623" x2="879.6" y2="623" stroke="#e8282e" stroke-width="4"/>
<line x1="820.5" y1="655.5" x2="879.6" y2="655.5" stroke="#24883a" stroke-width="4"/>
<line x1="820.5" y1="687.5" x2="879.6" y2="687.5" stroke="#8a8a8a" stroke-width="3"/>
<line x1="820.5" y1="718.6" x2="879.6" y2="718.6" stroke="#d8a0d0" stroke-width="3"/>
<line x1="820.5" y1="751.5" x2="879.6" y2="751.5" stroke="#8080c0" stroke-width="2.4"/>
<rect x="149" y="592" width="781.5" height="572.5" fill="none" stroke="#383838" stroke-width="3.4" stroke-linejoin="round"/>
<text transform="translate(-0.09,45.29) scale(1.0202,1)" font-size="61.00" font-weight="normal" font-style="normal" fill="#1c1c2c" stroke="#1c1c2c" stroke-width="0.20">(a)</text>
<text transform="translate(178.28,64.14) scale(1.0006,1)" font-size="55.91" font-weight="bold" font-style="normal" fill="#161620">Fe</text>
<text transform="translate(312.84,59.96) scale(1.0643,1)" font-size="53.79" font-weight="bold" font-style="normal" fill="#161620">Cr</text>
<text transform="translate(455.45,64.24) scale(1.0468,1)" font-size="56.36" font-weight="bold" font-style="normal" fill="#161620">C</text>
<text transform="translate(567.58,64.15) scale(1.0150,1)" font-size="55.00" font-weight="bold" font-style="normal" fill="#161620">Mo</text>
<text transform="translate(699.21,66.90) scale(0.9866,1)" font-size="55.23" font-weight="bold" font-style="normal" fill="#161620">Mn</text>
<text transform="translate(850.68,72.65) scale(1.0787,1)" font-size="52.25" font-weight="bold" font-style="normal" fill="#161620">Si</text>
<text transform="translate(49.48,234.85) scale(0.8784,1)" font-size="32.39" font-weight="normal" font-style="normal" fill="#1c1c2c" stroke="#1c1c2c" stroke-width="1.10">326</text>
<text transform="translate(51.41,271.50) scale(0.9336,1)" font-size="31.70" font-weight="normal" font-style="normal" fill="#1c1c2c" stroke="#1c1c2c" stroke-width="1.10">nm</text>
<text transform="translate(148.42,477.79) scale(0.9096,1)" font-size="31.49" font-weight="normal" font-style="normal" fill="#1c1c2c" stroke="#1c1c2c" stroke-width="1.10">119</text>
<text transform="translate(199.00,478.10) scale(0.9632,1)" font-size="31.06" font-weight="normal" font-style="normal" fill="#1c1c2c" stroke="#1c1c2c" stroke-width="1.10">nm</text>
<text transform="translate(449.69,270.79) scale(1.0700,1)" font-size="41.34" font-weight="bold" font-style="normal" fill="#161620">G1</text>
<text transform="translate(442.67,434.38) scale(1.0621,1)" font-size="41.97" font-weight="bold" font-style="normal" fill="#161620">G2</text>
<text transform="translate(540.66,280.47) scale(1.0365,1)" font-size="43.18" font-weight="bold" font-style="normal" fill="#3b4a9c">G.B.</text>
<text transform="translate(11.48,560.44) scale(1.0375,1)" font-size="60.78" font-weight="normal" font-style="normal" fill="#1c1c2c">(b)</text>
<text transform="translate(420.13,546.00) scale(1.0332,1)" font-size="35.00" font-weight="normal" font-style="italic" fill="#1c1c2c" stroke="#1c1c2c" stroke-width="0.40">Grain boundary</text>
<text transform="translate(202.80,657.30) scale(1.0213,1)" font-size="35.87" font-weight="bold" font-style="italic" fill="#e8262e">Cr segregation</text>
<text transform="translate(219.29,793.30) scale(1.0384,1)" font-size="35.65" font-weight="bold" font-style="italic" fill="#e8262e">Cr depletion</text>
<text transform="translate(606.96,641.32) scale(0.9384,1)" font-size="38.81" font-weight="bold" font-style="italic" fill="#1a1a30">23.0%</text>
<text transform="translate(603.81,781.71) scale(0.9088,1)" font-size="39.40" font-weight="bold" font-style="italic" fill="#1a1a30">7.8%</text>
<text transform="translate(100.92,729.90) scale(0.9977,1)" font-size="34.85" font-weight="bold" font-style="normal" fill="#1c1c24">10</text>
<text transform="translate(117.35,943.60) scale(0.9361,1)" font-size="36.67" font-weight="bold" font-style="normal" fill="#1c1c24">1</text>
<text transform="translate(92.18,1154.12) scale(0.9677,1)" font-size="34.12" font-weight="bold" font-style="normal" fill="#1c1c24">0.1</text>
<text transform="translate(138.21,1203.39) scale(1.0500,1)" font-size="35.37" font-weight="bold" font-style="normal" fill="#1c1c24">0</text>
<text transform="translate(325.59,1202.92) scale(1.0292,1)" font-size="34.12" font-weight="bold" font-style="normal" fill="#1c1c24">10</text>
<text transform="translate(522.09,1203.10) scale(0.9368,1)" font-size="34.93" font-weight="bold" font-style="normal" fill="#1c1c24">20</text>
<text transform="translate(716.41,1203.10) scale(0.9928,1)" font-size="34.93" font-weight="bold" font-style="normal" fill="#1c1c24">30</text>
<text transform="translate(912.86,1203.10) scale(0.9856,1)" font-size="34.93" font-weight="bold" font-style="normal" fill="#1c1c24">40</text>
<text transform="translate(415.48,1268.80) scale(0.9678,1)" font-size="42.61" font-weight="bold" font-style="normal" fill="#1c1c24">Distance (nm)</text>
<text transform="translate(64.10,1124.60) rotate(-90) scale(0.9642,1)" font-size="43.48" font-weight="bold" font-style="normal" fill="#1c1c24">Concentration (atomic%)</text>
<text transform="translate(884.31,631.92) scale(0.9331,1)" font-size="29.10" font-weight="normal" font-style="normal" fill="#333333" stroke="#333333" stroke-width="0.50">Cr</text>
<text transform="translate(884.24,663.80) scale(0.9756,1)" font-size="29.85" font-weight="normal" font-style="normal" fill="#333333" stroke="#333333" stroke-width="0.50">C</text>
<text transform="translate(883.46,696.02) scale(1.0027,1)" font-size="28.03" font-weight="normal" font-style="normal" fill="#333333" stroke="#333333" stroke-width="0.50">Mo</text>
<text transform="translate(883.49,727.50) scale(0.9810,1)" font-size="27.38" font-weight="normal" font-style="normal" fill="#333333" stroke="#333333" stroke-width="0.50">Mn</text>
<text transform="translate(883.39,758.41) scale(0.9793,1)" font-size="29.25" font-weight="normal" font-style="normal" fill="#333333" stroke="#333333" stroke-width="0.50">Si</text>
</svg>
</body></html>
